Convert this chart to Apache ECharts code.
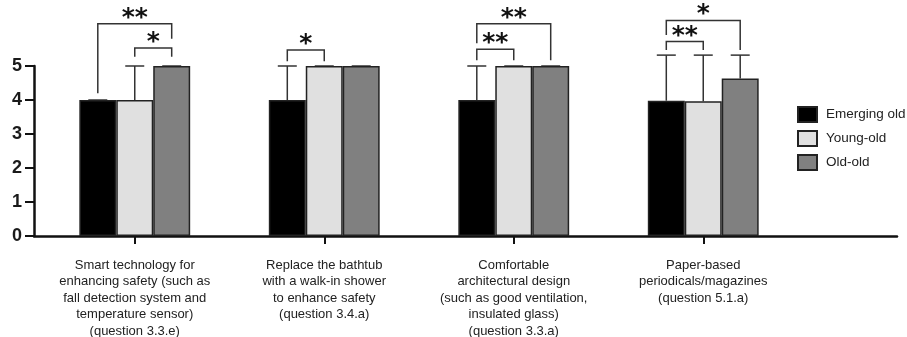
<!DOCTYPE html>
<html><head><meta charset="utf-8">
<script src="https://cdn.jsdelivr.net/npm/echarts@6/dist/echarts.min.js"></script>
<style>html,body{margin:0;padding:0;background:#fff}#c{width:907px;height:337px}</style>
</head><body><div id="c"></div>
<script>
// ---------- data ----------
const categories = [
  'Smart technology for\nenhancing safety (such as\nfall detection system and\ntemperature sensor)\n(question 3.3.e)',
  'Replace the bathtub\nwith a walk-in shower\nto enhance safety\n(question 3.4.a)',
  'Comfortable\narchitectural design\n(such as good ventilation,\ninsulated glass)\n(question 3.3.a)',
  'Paper-based\nperiodicals/magazines\n(question 5.1.a)'
];
const seriesNames = ['Emerging old', 'Young-old', 'Old-old'];
const emergingOld = [4, 4, 4, 3.98];
const youngOld    = [4, 5, 5, 3.96];
const oldOld      = [5, 5, 5, 4.63];
// upper end of the error bars
const emergingOldUpper = [4, 5, 5, 5.32];
const youngOldUpper    = [5, 5, 5, 5.32];
const oldOldUpper      = [5, 5, 5, 5.32];
const yTicks = [0, 1, 2, 3, 4, 5];
// significance brackets: category, from-bar, to-bar, bracket level, left leg end, right leg end, label
const sigCategory = [0, 0, 1, 2, 2, 3, 3];
const sigFrom     = [0, 1, 0, 0, 0, 0, 0];
const sigTo       = [2, 2, 1, 2, 1, 2, 1];
const sigLevel    = [6.24, 5.53, 5.47, 6.24, 5.49, 6.34, 5.72];
const sigLeftEnd  = [4.20, 5.27, 5.14, 5.67, 5.17, 5.91, 5.47];
const sigRightEnd = [5.80, 5.27, 5.14, 5.17, 5.17, 5.47, 5.47];
const sigLabel    = ['**', '*', '*', '**', '**', '*', '**'];

// ---------- chart ----------
const FONT = 'Liberation Sans, Arial, sans-serif';
const BAR_PCT = 0.195;
const colors = ['#000000', '#e0e0e0', '#808080'];
const values = [emergingOld, youngOld, oldOld];
const uppers = [emergingOldUpper, youngOldUpper, oldOldUpper];

const barSeries = seriesNames.map((n, s) => ({
  name: n, type: 'bar', xAxisIndex: 0, yAxisIndex: 0,
  data: values[s], barWidth: (BAR_PCT * 100) + '%', barGap: '0%',
  itemStyle: { color: colors[s], borderColor: '#222', borderWidth: 1.5 },
  z: 2
}));

const errData = [];
for (let s = 0; s < 3; s++) for (let i = 0; i < categories.length; i++) errData.push([i, s, values[s][i], uppers[s][i]]);

const errSeries = {
  type: 'custom', xAxisIndex: 0, yAxisIndex: 0, clip: false, z: 1,
  data: errData, encode: { x: 0, y: 3 },
  renderItem(params, api) {
    const i = api.value(0), s = api.value(1);
    const band = api.size([1, 0])[0];
    const bw = band * BAR_PCT;
    const cx = api.coord([i, 0])[0] + (s - 1) * bw;
    const y0 = api.coord([i, api.value(2)])[1];
    const y1 = api.coord([i, api.value(3)])[1];
    const cap = 9.5;
    const st = { stroke: '#333', lineWidth: 1.5, fill: null };
    return { type: 'group', children: [
      { type: 'line', shape: { x1: cx, y1: y0, x2: cx, y2: y1 }, style: st },
      { type: 'line', shape: { x1: cx - cap, y1: y1, x2: cx + cap, y2: y1 }, style: st }
    ]};
  }
};

const sigData = sigCategory.map((c, k) => [c, sigFrom[k], sigTo[k], sigLevel[k], sigLeftEnd[k], sigRightEnd[k]]);
const sigSeries = {
  type: 'custom', xAxisIndex: 0, yAxisIndex: 0, clip: false, z: 5,
  data: sigData, encode: { x: 0, y: 3 },
  renderItem(params, api) {
    const c = api.value(0);
    const band = api.size([1, 0])[0];
    const bw = band * BAR_PCT;
    const base = api.coord([c, 0])[0];
    const xa = base + (api.value(1) - 1) * bw;
    const xb = base + (api.value(2) - 1) * bw;
    const yl = api.coord([c, api.value(3)])[1];
    const ya = api.coord([c, api.value(4)])[1];
    const yb = api.coord([c, api.value(5)])[1];
    const st = { stroke: '#333', lineWidth: 1.5, fill: null };
    return { type: 'group', children: [
      { type: 'polyline', shape: { points: [[xa, ya], [xa, yl], [xb, yl], [xb, yb]] }, style: st },
      { type: 'text', x: (xa + xb) / 2, y: yl + 7, style: {
          text: sigLabel[params.dataIndex], fill: '#111', align: 'center', verticalAlign: 'bottom',
          font: 'bold 25px DejaVu Sans', lineHeight: 25 } }
    ]};
  }
};

const chart = echarts.init(document.getElementById('c'), null, { renderer: 'canvas' });
chart.setOption({
  animation: false,
  backgroundColor: '#fff',
  grid: [
    { left: 40, right: 109, top: 66, bottom: 101, containLabel: false, outerBoundsMode: 'none' },
    { left: 34, right: 10, top: 66, bottom: 101, containLabel: false, outerBoundsMode: 'none' }
  ],
  legend: {
    orient: 'vertical', left: 792, top: 101, itemWidth: 19, itemHeight: 15, itemGap: 7,
    icon: 'rect', data: seriesNames,
    textStyle: { fontFamily: FONT, fontSize: 13.5, color: '#222', padding: [0, 0, 0, 4] }
  },
  xAxis: [
    { type: 'category', gridIndex: 0, data: categories,
      axisLine: { show: false },
      axisTick: { show: true, alignWithLabel: true, length: 8, lineStyle: { color: '#111', width: 2 } },
      axisLabel: { interval: 0, margin: 21, fontFamily: FONT, fontSize: 13, color: '#222', lineHeight: 16.5, verticalAlign: 'top' },
      splitLine: { show: false } },
    { type: 'value', gridIndex: 1, min: 0, max: 1,
      axisLine: { show: true, lineStyle: { color: '#111', width: 2.5 } },
      axisTick: { show: false }, axisLabel: { show: false }, splitLine: { show: false } }
  ],
  yAxis: [
    { type: 'value', gridIndex: 0, min: yTicks[0], max: yTicks[yTicks.length - 1], interval: 1, offset: 6,
      axisLine: { show: true, lineStyle: { color: '#111', width: 2.5 } },
      axisTick: { show: true, length: 9, lineStyle: { color: '#111', width: 2 } },
      axisLabel: { margin: 12, fontFamily: FONT, fontWeight: 'bold', fontSize: 18, color: '#1a1a1a' },
      splitLine: { show: false } },
    { type: 'value', gridIndex: 1, min: 0, max: 1, show: false }
  ],
  series: [...barSeries, errSeries, sigSeries]
});
</script></body></html>
